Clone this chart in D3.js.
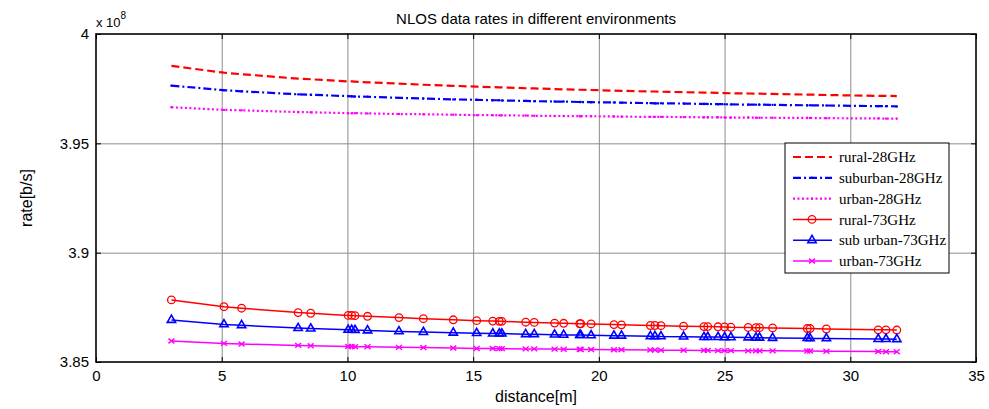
<!DOCTYPE html>
<html>
<head>
<meta charset="utf-8">
<script src="https://cdn.jsdelivr.net/npm/d3@7"></script>
<style>
  html, body { margin: 0; padding: 0; background: #fff; }
  svg { display: block; }
  text { fill: #000; }
</style>
</head>
<body>
<svg id="chart" width="989" height="409"></svg>
<script>
// ---------------- data (rate values in units of 1e8 b/s) ----------------
const distance = [3.00, 5.09, 5.79, 8.04, 8.54, 10.03, 10.17, 10.30, 10.80, 12.05, 13.02, 14.21, 15.14, 15.78, 16.04, 16.14, 17.09, 17.43, 18.24, 18.60, 19.24, 19.28, 19.69, 20.60, 20.90, 22.05, 22.23, 22.47, 23.37, 24.18, 24.33, 24.74, 25.00, 25.25, 25.94, 26.25, 26.39, 26.91, 28.29, 28.40, 29.05, 31.11, 31.42, 31.85];

const rural28 = [3.9854, 3.9823, 3.9816, 3.9796, 3.9793, 3.9783, 3.9783, 3.9782, 3.9779, 3.9773, 3.9768, 3.9763, 3.9759, 3.9757, 3.9756, 3.9756, 3.9752, 3.9751, 3.9748, 3.9747, 3.9745, 3.9745, 3.9744, 3.9741, 3.9740, 3.9737, 3.9737, 3.9736, 3.9734, 3.9732, 3.9732, 3.9731, 3.9730, 3.9729, 3.9728, 3.9727, 3.9727, 3.9726, 3.9723, 3.9723, 3.9721, 3.9717, 3.9717, 3.9716];

const suburban28 = [3.9764, 3.9743, 3.9738, 3.9724, 3.9722, 3.9716, 3.9715, 3.9714, 3.9713, 3.9708, 3.9705, 3.9701, 3.9699, 3.9697, 3.9697, 3.9696, 3.9694, 3.9693, 3.9691, 3.9691, 3.9689, 3.9689, 3.9688, 3.9687, 3.9686, 3.9684, 3.9683, 3.9683, 3.9682, 3.9680, 3.9680, 3.9679, 3.9679, 3.9678, 3.9677, 3.9677, 3.9677, 3.9676, 3.9674, 3.9674, 3.9673, 3.9670, 3.9670, 3.9669];

const urban28 = [3.9665, 3.9653, 3.9651, 3.9643, 3.9642, 3.9638, 3.9638, 3.9638, 3.9637, 3.9634, 3.9633, 3.9631, 3.9629, 3.9629, 3.9628, 3.9628, 3.9627, 3.9626, 3.9625, 3.9625, 3.9624, 3.9624, 3.9624, 3.9623, 3.9622, 3.9621, 3.9621, 3.9621, 3.9620, 3.9619, 3.9619, 3.9619, 3.9618, 3.9618, 3.9618, 3.9617, 3.9617, 3.9617, 3.9616, 3.9616, 3.9615, 3.9614, 3.9613, 3.9613];

const rural73 = [3.8784, 3.8753, 3.8746, 3.8726, 3.8723, 3.8713, 3.8713, 3.8712, 3.8709, 3.8703, 3.8698, 3.8693, 3.8689, 3.8687, 3.8686, 3.8686, 3.8682, 3.8681, 3.8678, 3.8677, 3.8675, 3.8675, 3.8674, 3.8671, 3.8670, 3.8667, 3.8667, 3.8666, 3.8664, 3.8662, 3.8662, 3.8661, 3.8660, 3.8659, 3.8658, 3.8657, 3.8657, 3.8656, 3.8653, 3.8653, 3.8651, 3.8647, 3.8647, 3.8646];

const suburban73 = [3.8692, 3.8672, 3.8668, 3.8655, 3.8653, 3.8647, 3.8647, 3.8646, 3.8644, 3.8640, 3.8637, 3.8634, 3.8632, 3.8630, 3.8630, 3.8630, 3.8627, 3.8627, 3.8625, 3.8624, 3.8623, 3.8623, 3.8622, 3.8620, 3.8620, 3.8618, 3.8618, 3.8617, 3.8616, 3.8614, 3.8614, 3.8614, 3.8613, 3.8613, 3.8612, 3.8611, 3.8611, 3.8610, 3.8609, 3.8608, 3.8608, 3.8605, 3.8605, 3.8604];

const urban73 = [3.8596, 3.8585, 3.8582, 3.8576, 3.8574, 3.8571, 3.8571, 3.8570, 3.8570, 3.8567, 3.8566, 3.8564, 3.8562, 3.8562, 3.8561, 3.8561, 3.8560, 3.8560, 3.8559, 3.8558, 3.8558, 3.8557, 3.8557, 3.8556, 3.8556, 3.8555, 3.8555, 3.8554, 3.8554, 3.8553, 3.8553, 3.8552, 3.8552, 3.8552, 3.8551, 3.8551, 3.8551, 3.8551, 3.8550, 3.8550, 3.8549, 3.8548, 3.8547, 3.8547];

const seriesNames = ["rural-28GHz", "suburban-28GHz", "urban-28GHz", "rural-73GHz", "sub urban-73GHz", "urban-73GHz"];
const xTicks = [0, 5, 10, 15, 20, 25, 30, 35];
const yTicks = [3.85, 3.9, 3.95, 4];
const yTickLabels = ["3.85", "3.9", "3.95", "4"];
const titleText = "NLOS data rates in different environments";
const xLabel = "distance[m]";
const yLabel = "rate[b/s]";

// ---------------- layout ----------------
const SANS = "'Liberation Sans', Arial, Helvetica, sans-serif";
const SERIF = "'Liberation Serif', 'Times New Roman', serif";
const L = 96, R = 976, T = 34, B = 362;
const svg = d3.select("#chart");
const x = d3.scaleLinear().domain([0, 35]).range([L, R]);
const y = d3.scaleLinear().domain([3.85, 4]).range([B, T]);

const styles = [
  { data: rural28, color: "#ff0000", dash: "8,4", width: 2.2, marker: null },
  { data: suburban28, color: "#0000ff", dash: "8,3,2,3", width: 2.2, marker: "dot" },
  { data: urban28, color: "#ff00ff", dash: "2,2.5", width: 2.2, marker: "dot" },
  { data: rural73, color: "#ff0000", dash: null, width: 1.5, marker: "circle" },
  { data: suburban73, color: "#0000ff", dash: null, width: 1.5, marker: "triangle" },
  { data: urban73, color: "#ff00ff", dash: null, width: 1.5, marker: "x" }
];

// background
svg.append("rect").attr("x", L).attr("y", T).attr("width", R - L).attr("height", B - T).attr("fill", "#fff");

// grid
const grid = svg.append("g").attr("class", "grid");
grid.append("g").attr("transform", `translate(0,${B})`)
  .call(d3.axisBottom(x).tickValues(xTicks.slice(1, -1)).tickSize(-(B - T)).tickFormat(""))
  .call(g => g.select(".domain").remove())
  .call(g => g.selectAll("line").attr("stroke", "#8c8c8c").attr("stroke-width", 1));
grid.append("g").attr("transform", `translate(${L},0)`)
  .call(d3.axisLeft(y).tickValues(yTicks.slice(1, -1)).tickSize(-(R - L)).tickFormat(""))
  .call(g => g.select(".domain").remove())
  .call(g => g.selectAll("line").attr("stroke", "#8c8c8c").attr("stroke-width", 1));

// lines
const line = d3.line().x((d, i) => x(distance[i])).y(d => y(d));
const plot = svg.append("g");
styles.forEach(s => {
  plot.append("path").datum(s.data)
    .attr("d", line)
    .attr("fill", "none")
    .attr("stroke", s.color)
    .attr("stroke-width", s.width)
    .attr("stroke-dasharray", s.dash);
});

function drawMarker(g, type, cx, cy, color) {
  if (type === "circle") {
    g.append("circle").attr("cx", cx).attr("cy", cy).attr("r", 3.8)
      .attr("fill", "none").attr("stroke", color).attr("stroke-width", 1.3);
  } else if (type === "triangle") {
    g.append("path").attr("d", d3.symbol().type(d3.symbolTriangle).size(30)())
      .attr("transform", `translate(${cx},${cy})`)
      .attr("fill", "none").attr("stroke", color).attr("stroke-width", 1.6);
  } else if (type === "x") {
    const r = 3;
    g.append("path").attr("d", `M${cx - r},${cy - r * 0.8}L${cx + r},${cy + r * 0.8}M${cx - r},${cy + r * 0.8}L${cx + r},${cy - r * 0.8}`)
      .attr("fill", "none").attr("stroke", color).attr("stroke-width", 1.4);
  } else if (type === "dot") {
    g.append("circle").attr("cx", cx).attr("cy", cy).attr("r", 1.2).attr("fill", color);
  }
}

styles.forEach(s => {
  if (!s.marker) return;
  const g = plot.append("g");
  s.data.forEach((v, i) => drawMarker(g, s.marker, x(distance[i]), y(v), s.color));
});

// axes (inward ticks)
const axG = svg.append("g");
axG.append("g").attr("transform", `translate(0,${B})`)
  .call(d3.axisBottom(x).tickValues(xTicks).tickSizeInner(-5).tickSizeOuter(0).tickPadding(8).tickFormat(d3.format("d")));
axG.append("g").attr("transform", `translate(0,${T})`)
  .call(d3.axisTop(x).tickValues(xTicks).tickSizeInner(-5).tickSizeOuter(0).tickFormat(""));
axG.append("g").attr("transform", `translate(${L},0)`)
  .call(d3.axisLeft(y).tickValues(yTicks).tickSizeInner(-5).tickSizeOuter(0).tickPadding(7).tickFormat((d, i) => yTickLabels[i]));
axG.append("g").attr("transform", `translate(${R},0)`)
  .call(d3.axisRight(y).tickValues(yTicks).tickSizeInner(-5).tickSizeOuter(0).tickFormat(""));
axG.selectAll(".domain").remove();
axG.selectAll("line").attr("stroke", "#000").attr("stroke-width", 1);
axG.selectAll("g").attr("font-family", null).attr("font-size", null);
axG.selectAll("text").style("font-size", "15px").style("font-family", SANS).attr("fill", "#000");

// box
svg.append("rect").attr("x", L).attr("y", T).attr("width", R - L).attr("height", B - T)
  .attr("fill", "none").attr("stroke", "#000").attr("stroke-width", 1.6);

// exponent
const ex = svg.append("text").attr("x", 96).attr("y", 27).style("font-family", SANS).style("font-size", "13px");
ex.append("tspan").text("x 10");
ex.append("tspan").attr("dy", -8).style("font-size", "10px").text("8");

// title and labels
svg.append("text").attr("x", (L + R) / 2).attr("y", 24).attr("text-anchor", "middle")
  .style("font-family", SANS).style("font-size", "15px").text(titleText);
svg.append("text").attr("x", (L + R) / 2).attr("y", 402).attr("text-anchor", "middle")
  .style("font-family", SANS).style("font-size", "16px").text(xLabel);
svg.append("text").attr("transform", `translate(32,${(T + B) / 2}) rotate(-90)`).attr("text-anchor", "middle")
  .style("font-family", SANS).style("font-size", "16px").text(yLabel);

// legend
const lg = svg.append("g");
const lx = 785, ly = 143, lw = 164, lh = 130;
lg.append("rect").attr("x", lx).attr("y", ly).attr("width", lw).attr("height", lh)
  .attr("fill", "#fff").attr("stroke", "#000").attr("stroke-width", 1);
seriesNames.forEach((name, i) => {
  const s = styles[i];
  const cy = ly + 14 + i * 20.8;
  lg.append("line").attr("x1", lx + 8).attr("x2", lx + 47).attr("y1", cy).attr("y2", cy)
    .attr("stroke", s.color).attr("stroke-width", s.width).attr("stroke-dasharray", s.dash);
  if (s.marker) drawMarker(lg, s.marker, lx + 27, cy, s.color);
  lg.append("text").attr("x", lx + 54).attr("y", cy).attr("dy", "0.35em")
    .style("font-family", SERIF).style("font-size", "15px").text(name);
});
</script>
</body>
</html>
